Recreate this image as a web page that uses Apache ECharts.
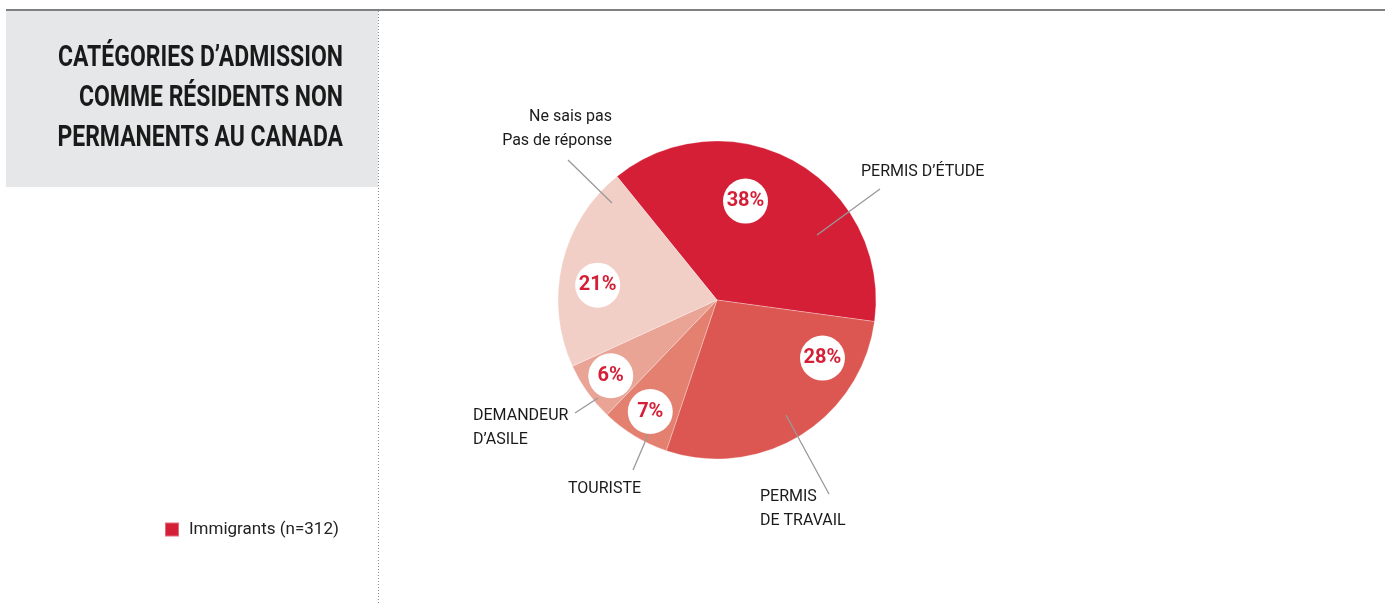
<!DOCTYPE html>
<html>
<head>
<meta charset="utf-8">
<script src="https://cdn.jsdelivr.net/npm/echarts@6/dist/echarts.min.js"></script>
<style>
  html, body { margin: 0; padding: 0; background: #fff; }
  #chart { width: 1385px; height: 603px; }
</style>
</head>
<body>
<div id="chart"></div>
<script>
    // catégories d'admission (immigrants, n=312)
    var categories = ['PERMIS D\u2019ÉTUDE', 'PERMIS\nDE TRAVAIL', 'TOURISTE', 'DEMANDEUR\nD\u2019ASILE', 'Ne sais pas\nPas de réponse'];
    var shares = [38, 28, 7, 6, 21];
    var seriesName = 'Immigrants (n=312)';
    var titleLines = ['CATÉGORIES D\u2019ADMISSION', 'COMME RÉSIDENTS NON', 'PERMANENTS AU CANADA'];

    var sliceColors = ['#d51f37', '#dd5752', '#e48070', '#e9a496', '#f2cfc6'];
    var RED = '#d51f37';
    var FONT = 'Roboto, sans-serif';

    // décalage des pastilles % par rapport à la position "inside"
    var pctShift = [[-12, -27], [62, -12], [-24, 41], [-39, 28], [-39, 4]];
    // étiquettes extérieures : position, alignement, trait de rappel
    var outerLabels = [
        {x: 861, y: 172, align: 'left', line: [[817, 235], [880, 189]]},
        {x: 760, y: 509, align: 'left', line: [[786, 415], [829, 494]]},
        {x: 568, y: 489, align: 'left', line: [[648, 435], [633, 470]]},
        {x: 473, y: 428, align: 'left', line: [[598, 398], [575, 413]]},
        {x: 612, y: 129, align: 'right', line: [[612, 203], [568, 160]]}
    ];

    // le titre est dans une police condensée : on resserre Roboto en largeur
    var ctx = document.createElement('canvas').getContext('2d');
    ctx.font = 'bold 30px Roboto';
    var titleScale = 285 / ctx.measureText(titleLines[0]).width;

    var pieData = categories.map(function (c, i) {
        return {name: c, value: shares[i], itemStyle: {color: sliceColors[i]}};
    });

    var chart = echarts.init(document.getElementById('chart'), null, {renderer: 'canvas'});

    var option = {
        animation: false,
        legend: {
            left: 164,
            top: 521,
            padding: 0,
            itemWidth: 14,
            itemHeight: 14,
            itemGap: 10,
            selectedMode: false,
            data: [{name: seriesName, icon: 'rect', itemStyle: {color: RED}}],
            textStyle: {fontFamily: FONT, fontSize: 17, color: '#222', padding: [0, 0, 0, 5]}
        },
        graphic: [
            {type: 'rect', left: 6, top: 11, shape: {width: 372, height: 176}, style: {fill: '#e6e7e8'}, z: -1},
            {type: 'line', shape: {x1: 6, y1: 10, x2: 1385, y2: 10}, style: {stroke: '#808080', lineWidth: 2}},
            {type: 'line', shape: {x1: 378.5, y1: 11, x2: 378.5, y2: 603}, style: {stroke: '#8a8a8a', lineWidth: 1, lineDash: [1, 2]}},
            {
                type: 'text', x: 343, y: 38,
                scaleX: titleScale,
                style: {
                    text: titleLines.join('\n'),
                    align: 'right',
                    verticalAlign: 'top',
                    font: 'bold 30px Roboto',
                    lineHeight: 40,
                    fill: '#1a1a1a'
                }
            }
        ],
        series: [
            {
                name: seriesName,
                type: 'pie',
                center: [717, 300],
                radius: 159,
                startAngle: 129,
                clockwise: true,
                silent: true,
                emphasis: {disabled: true},
                data: pieData,
                itemStyle: {borderColor: 'rgba(255,255,255,0.35)', borderWidth: 0.8},
                label: {
                    position: 'inside',
                    formatter: '{c}%',
                    color: RED,
                    fontFamily: FONT,
                    fontWeight: 'bold',
                    fontSize: 20,
                    backgroundColor: '#fff',
                    width: 45,
                    height: 45,
                    lineHeight: 45,
                    overflow: 'none',
                    borderRadius: 22.5,
                    align: 'center'
                },
                labelLine: {show: false},
                labelLayout: function (p) {
                    var s = pctShift[p.dataIndex];
                    return {dx: s[0], dy: s[1]};
                }
            },
            {
                name: 'étiquettes',
                type: 'pie',
                z: 3,
                center: [717, 300],
                radius: 159,
                startAngle: 129,
                silent: true,
                avoidLabelOverlap: false,
                emphasis: {disabled: true},
                itemStyle: {color: 'rgba(0,0,0,0)'},
                data: categories.map(function (c, i) { return {name: c, value: shares[i]}; }),
                label: {
                    position: 'outside',
                    formatter: '{b}',
                    color: '#1a1a1a',
                    fontFamily: FONT,
                    fontSize: 16,
                    lineHeight: 24
                },
                labelLine: {show: true, lineStyle: {color: '#999', width: 1.3}},
                labelLayout: function (p) {
                    var o = outerLabels[p.dataIndex];
                    return {x: o.x, y: o.y, align: o.align, verticalAlign: 'middle', labelLinePoints: o.line};
                }
            }
        ]
    };

    chart.setOption(option);
</script>
</body>
</html>
